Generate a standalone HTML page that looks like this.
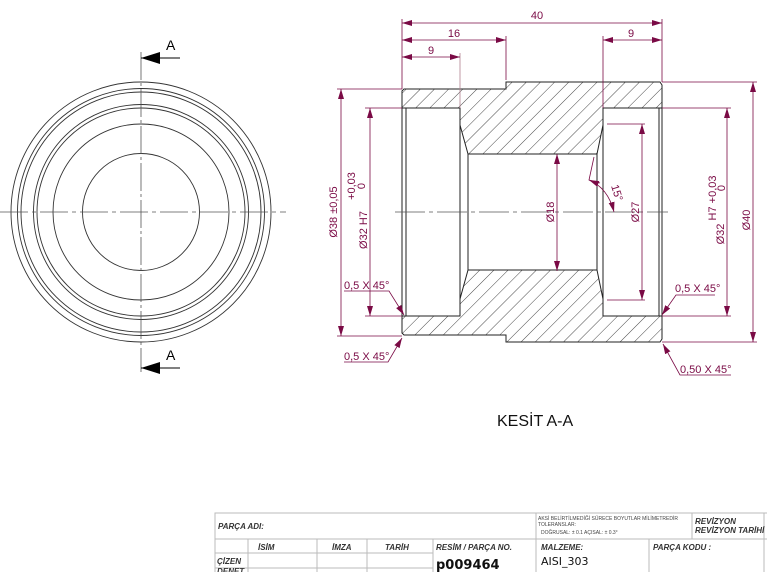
<!DOCTYPE html>
<html><head><meta charset="utf-8"><style>
html,body{margin:0;padding:0;background:#fff;}
svg{display:block;}
.d{font-family:"Liberation Sans",sans-serif;font-size:11px;fill:#7a0a45;}
.t{font-family:"Liberation Sans",sans-serif;font-style:italic;font-weight:bold;font-size:8px;fill:#333;}
</style></head><body>
<svg width="767" height="572" viewBox="0 0 767 572" xmlns="http://www.w3.org/2000/svg">
<defs>
<pattern id="h" patternUnits="userSpaceOnUse" width="10" height="10" patternTransform="rotate(45)">
<line x1="0" y1="0" x2="0" y2="10" stroke="#333" stroke-width="0.9"/>
</pattern>
<marker id="a" viewBox="0 0 10 6" refX="10" refY="3" markerWidth="10" markerHeight="6" orient="auto-start-reverse" markerUnits="userSpaceOnUse"><path d="M0,0L10,3L0,6z" fill="#7a0a45"/></marker>
</defs>

<g fill="none" stroke="#333" stroke-width="0.9">
<circle cx="141" cy="212" r="130"/>
<circle cx="141" cy="212" r="123.5"/>
<circle cx="141" cy="212" r="120"/>
<circle cx="141" cy="212" r="107.5"/>
<circle cx="141" cy="212" r="104"/>
<circle cx="141" cy="212" r="88"/>
<circle cx="141" cy="212" r="58.5"/>
</g>
<g stroke="#555" stroke-width="0.8">
<line x1="0" y1="212" x2="286" y2="212" stroke-dasharray="28,4,4,4"/>
<line x1="141" y1="52" x2="141" y2="372" stroke-dasharray="28,3,3,3"/>
</g>
<line x1="141" y1="58" x2="180" y2="58" stroke="#000" stroke-width="1"/>
<path d="M141,58 L160,52 L160,64z" fill="#000"/>
<line x1="141" y1="368" x2="180" y2="368" stroke="#000" stroke-width="1"/>
<path d="M141,368 L160,362 L160,374z" fill="#000"/>
<text x="166" y="50" font-family="Liberation Sans" font-size="14" fill="#000">A</text>
<text x="166" y="360" font-family="Liberation Sans" font-size="14" fill="#000">A</text>

<path d="M402,89 L506,89 L506,82 L662,82 L662,108 L603,108 L603,125 L597,154 L468,154 L460,125 L460,108 L402,108Z" fill="url(#h)"/>
<path d="M402,335 L506,335 L506,342 L662,342 L662,316 L603,316 L603,299 L597,270 L468,270 L460,299 L460,316 L402,316Z" fill="url(#h)"/>
<g fill="none" stroke="#222" stroke-width="1">
<path d="M404,89 L506,89 L506,82 L660,82 L662,85 L662,339 L660,342 L506,342 L506,335 L404,335 L402,333 L402,91Z"/>
<path d="M402,108 L460,108 L460,125 L468,154 L597,154 L603,125 L603,108 L662,108"/>
<path d="M402,316 L460,316 L460,299 L468,270 L597,270 L603,299 L603,316 L662,316"/>
<line x1="406" y1="108" x2="406" y2="316"/>
<line x1="659" y1="108" x2="659" y2="316"/>
<line x1="460" y1="125" x2="460" y2="299"/>
<line x1="468" y1="154" x2="468" y2="270"/>
<line x1="597" y1="154" x2="597" y2="270"/>
<line x1="603" y1="125" x2="603" y2="299"/>
</g>
<line x1="395" y1="212" x2="668" y2="212" stroke="#555" stroke-width="0.8" stroke-dasharray="30,4,4,4"/>

<g stroke="#7a0a45" stroke-width="0.8" fill="none">
<line x1="402" y1="19" x2="402" y2="89"/><line x1="662" y1="19" x2="662" y2="82"/>
<line x1="402" y1="23" x2="662" y2="23" marker-start="url(#a)" marker-end="url(#a)"/>
<line x1="506" y1="36" x2="506" y2="80"/>
<line x1="402" y1="40" x2="506" y2="40" marker-start="url(#a)" marker-end="url(#a)"/>
<line x1="460" y1="53" x2="460" y2="108" stroke="#b08090"/>
<line x1="402" y1="57" x2="460" y2="57" marker-start="url(#a)" marker-end="url(#a)"/>
<line x1="603" y1="36" x2="603" y2="108"/>
<line x1="603" y1="40" x2="662" y2="40" marker-start="url(#a)" marker-end="url(#a)"/>
<line x1="337" y1="89" x2="402" y2="89"/><line x1="337" y1="336" x2="402" y2="336"/>
<line x1="341" y1="89" x2="341" y2="336" marker-start="url(#a)" marker-end="url(#a)"/>
<line x1="365" y1="108" x2="402" y2="108"/><line x1="365" y1="316" x2="402" y2="316"/>
<line x1="370" y1="108" x2="370" y2="316" marker-start="url(#a)" marker-end="url(#a)"/>
<line x1="557" y1="154" x2="557" y2="271" marker-start="url(#a)" marker-end="url(#a)"/>
<line x1="607" y1="124" x2="645" y2="124"/><line x1="607" y1="300" x2="645" y2="300"/>
<line x1="642" y1="124" x2="642" y2="300" marker-start="url(#a)" marker-end="url(#a)"/>
<line x1="662" y1="108" x2="731" y2="108"/><line x1="662" y1="316" x2="731" y2="316"/>
<line x1="727" y1="108" x2="727" y2="316" marker-start="url(#a)" marker-end="url(#a)"/>
<line x1="662" y1="82" x2="757" y2="82"/><line x1="662" y1="342" x2="757" y2="342"/>
<line x1="753" y1="82" x2="753" y2="342" marker-start="url(#a)" marker-end="url(#a)"/>
<path d="M594,157 L589,180 L600,183"/>
<path d="M589,180 Q608,188 614,212" marker-start="url(#a)" marker-end="url(#a)"/>
<path d="M344,291 L389,291 L404,315" marker-end="url(#a)"/>
<path d="M344,362 L388,362 L402,338" marker-end="url(#a)"/>
<path d="M715,295 L676,295 L662,315" marker-end="url(#a)"/>
<path d="M731,375 L680,375 L663,344" marker-end="url(#a)"/>
</g>
<text class="d" x="537" y="19" text-anchor="middle">40</text>
<text class="d" x="454" y="37" text-anchor="middle">16</text>
<text class="d" x="431" y="54" text-anchor="middle">9</text>
<text class="d" x="631" y="37" text-anchor="middle">9</text>
<text class="d" transform="translate(337,212) rotate(-90)" text-anchor="middle">Ø38 ±0,05</text>
<text class="d" transform="translate(367,230) rotate(-90)" text-anchor="middle">Ø32 H7</text>
<text class="d" transform="translate(355,186) rotate(-90)" text-anchor="middle" font-size="10">+0,03</text>
<text class="d" transform="translate(365,186) rotate(-90)" text-anchor="middle" font-size="10">0</text>
<text class="d" transform="translate(554,212) rotate(-90)" text-anchor="middle">Ø18</text>
<text class="d" transform="translate(639,212) rotate(-90)" text-anchor="middle">Ø27</text>
<text class="d" transform="translate(724,234) rotate(-90)" text-anchor="middle">Ø32</text>
<text class="d" transform="translate(716,198) rotate(-90)" text-anchor="middle" font-size="10">H7 +0,03</text>
<text class="d" transform="translate(725,188) rotate(-90)" text-anchor="middle" font-size="10">0</text>
<text class="d" transform="translate(750,220) rotate(-90)" text-anchor="middle">Ø40</text>
<text class="d" transform="translate(611,186) rotate(72)" font-size="11">15°</text>
<text class="d" x="344" y="289">0,5 X 45°</text>
<text class="d" x="344" y="360">0,5 X 45°</text>
<text class="d" x="675" y="292">0,5 X 45°</text>
<text class="d" x="680" y="373">0,50 X 45°</text>

<text x="497" y="426" font-family="Liberation Sans" font-size="16" fill="#111">KESİT A-A</text>

<g stroke="#bbb" stroke-width="1" fill="none">
<rect x="215" y="513" width="560" height="70"/>
<line x1="215" y1="539" x2="767" y2="539"/>
<line x1="536" y1="513" x2="536" y2="572"/>
<line x1="692" y1="513" x2="692" y2="539"/>
<line x1="764" y1="513" x2="764" y2="572"/>
<line x1="649" y1="539" x2="649" y2="572"/>
<line x1="433" y1="539" x2="433" y2="572"/>
<line x1="248" y1="539" x2="248" y2="572"/>
<line x1="317" y1="539" x2="317" y2="572"/>
<line x1="367" y1="539" x2="367" y2="572"/>
<line x1="215" y1="553" x2="433" y2="553"/>
<line x1="215" y1="568" x2="433" y2="568"/>
</g>
<text class="t" x="218" y="529">PARÇA ADI:</text>
<text class="t" x="258" y="550">İSİM</text>
<text class="t" x="332" y="550">İMZA</text>
<text class="t" x="385" y="550">TARİH</text>
<text class="t" x="436" y="550">RESİM / PARÇA NO.</text>
<text class="t" x="217" y="564">ÇİZEN</text>
<text x="436" y="569" font-family="DejaVu Sans" font-weight="bold" font-size="13" fill="#111">p009464</text>
<text class="t" x="541" y="550">MALZEME:</text>
<text x="541" y="565" font-family="DejaVu Sans" font-size="11" fill="#111">AISI_303</text>
<text class="t" x="653" y="550">PARÇA KODU :</text>
<text class="t" x="695" y="524">REVİZYON</text>
<text class="t" x="695" y="533">REVİZYON TARİHİ</text>
<g font-family="Liberation Sans" font-size="5" fill="#444">
<text x="538" y="520">AKSİ BELİRTİLMEDİĞİ SÜRECE BOYUTLAR MİLİMETREDİR</text>
<text x="538" y="526">TOLERANSLAR:</text>
<text x="541" y="534">DOĞRUSAL: ± 0.1    AÇISAL: ± 0.3°</text>
</g>
<text class="t" x="217" y="574" fill="#777">DENET</text>
</svg>
</body></html>
